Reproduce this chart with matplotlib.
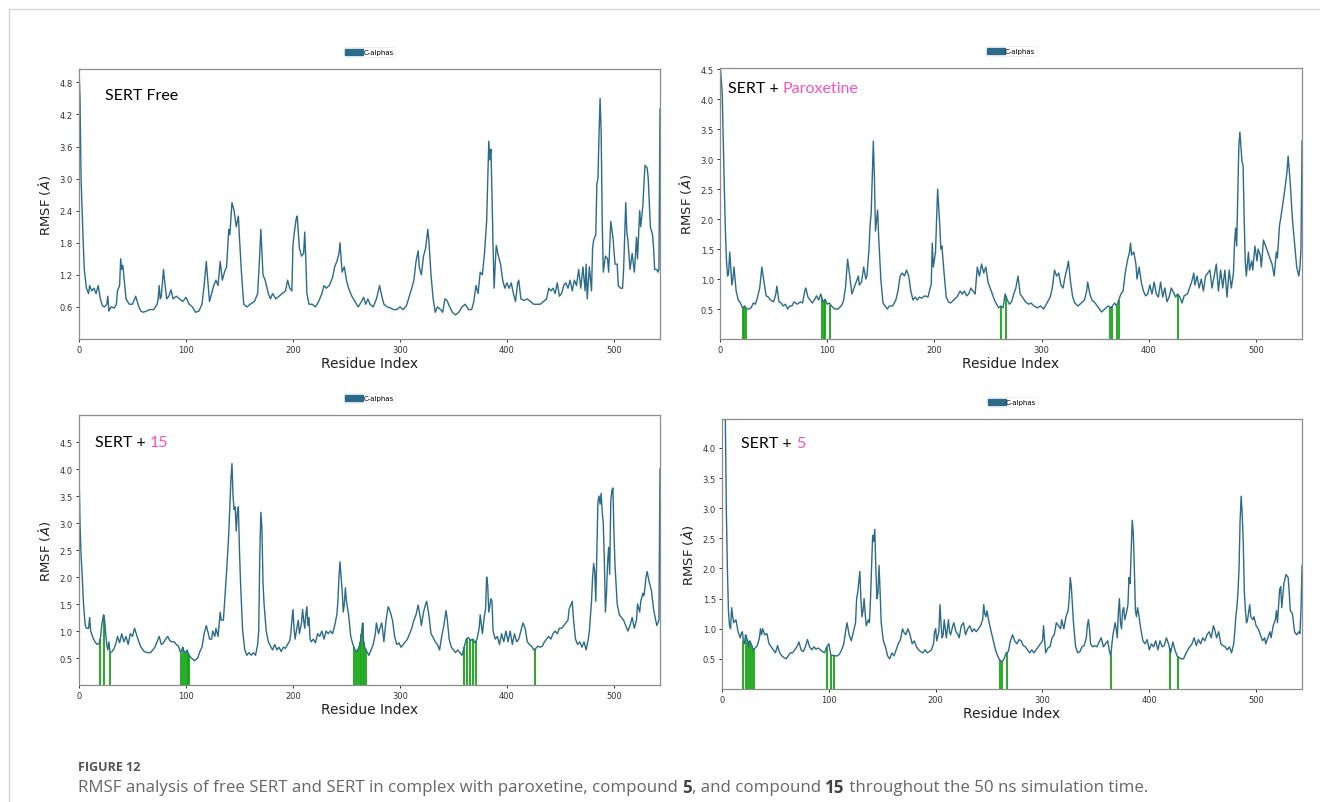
import numpy as np
import matplotlib
matplotlib.use("Agg")
import matplotlib.pyplot as plt
from matplotlib.patches import Patch

# RMSF profiles (residue index, RMSF in Angstrom)
free_res = [0, 1, 2, 4, 5, 7, 9, 10, 12, 14, 16, 18, 20, 22, 24, 26, 27, 28, 30, 33, 35, 36, 38, 39, 40, 41, 43, 44, 47, 50, 53, 56, 58, 60, 63, 66, 70, 73, 74, 75, 76, 77, 79, 80, 82, 84, 86, 88, 91, 94, 97, 100, 103, 106, 109, 112, 115, 117, 119, 121, 122, 124, 126, 128, 130, 132, 134, 136, 138, 140, 141, 143, 145, 147, 149, 150, 152, 154, 157, 160, 164, 167, 169, 170, 172, 174, 177, 179, 181, 184, 187, 190, 193, 195, 197, 199, 200, 201, 203, 204, 206, 208, 210, 211, 212, 213, 215, 218, 221, 224, 227, 229, 231, 234, 237, 239, 241, 243, 244, 245, 246, 248, 250, 252, 255, 258, 261, 264, 266, 268, 270, 272, 275, 278, 281, 283, 285, 288, 291, 294, 297, 300, 303, 306, 308, 311, 313, 315, 317, 318, 320, 322, 324, 326, 327, 329, 331, 333, 335, 338, 340, 342, 344, 346, 349, 352, 355, 358, 361, 364, 367, 369, 371, 373, 375, 377, 379, 381, 383, 384, 385, 386, 387, 388, 389, 390, 392, 394, 396, 398, 400, 402, 404, 406, 408, 410, 411, 413, 416, 419, 422, 425, 428, 431, 434, 437, 439, 441, 443, 445, 447, 449, 451, 453, 455, 457, 459, 461, 463, 465, 467, 469, 471, 473, 474, 475, 477, 479, 480, 481, 483, 484, 485, 486, 487, 488, 489, 490, 492, 494, 495, 497, 498, 499, 501, 503, 504, 506, 508, 509, 511, 512, 513, 515, 517, 519, 520, 521, 522, 524, 525, 527, 528, 529, 531, 532, 534, 536, 537, 538, 540, 541, 542, 543]
free_rmsf = [5.1, 4.5, 3.0, 1.8, 1.3, 0.95, 0.85, 1.0, 0.9, 0.95, 0.85, 1.0, 0.75, 0.62, 0.6, 0.65, 0.8, 0.52, 0.6, 0.58, 0.65, 0.9, 1.0, 1.5, 1.3, 1.38, 0.95, 0.75, 0.65, 0.65, 0.8, 0.6, 0.52, 0.5, 0.52, 0.55, 0.55, 0.65, 0.75, 1.0, 0.75, 0.8, 1.3, 1.1, 0.75, 0.8, 0.92, 0.75, 0.8, 0.75, 0.7, 0.78, 0.65, 0.6, 0.5, 0.52, 0.65, 1.0, 1.45, 0.95, 0.7, 0.85, 1.0, 1.1, 1.0, 1.45, 1.1, 1.25, 1.35, 2.05, 1.95, 2.55, 2.4, 2.1, 2.3, 1.9, 1.2, 0.65, 0.6, 0.65, 0.7, 0.85, 1.6, 2.05, 1.2, 1.1, 0.85, 0.75, 0.85, 0.75, 0.8, 0.85, 0.9, 1.1, 0.95, 0.9, 1.75, 1.95, 2.25, 2.3, 1.7, 1.55, 1.6, 2.0, 1.5, 0.85, 0.65, 0.65, 0.6, 0.7, 0.85, 1.0, 0.95, 1.0, 1.15, 1.35, 1.45, 1.6, 1.8, 1.5, 1.25, 1.35, 1.1, 0.95, 0.8, 0.7, 0.6, 0.7, 0.78, 0.65, 0.75, 0.65, 0.6, 0.75, 1.0, 0.8, 0.65, 0.6, 0.58, 0.55, 0.55, 0.6, 0.55, 0.62, 0.75, 0.95, 1.1, 1.45, 1.65, 1.35, 1.2, 1.55, 1.7, 2.05, 1.85, 1.2, 0.75, 0.5, 0.6, 0.55, 0.5, 0.75, 0.72, 0.62, 0.5, 0.45, 0.5, 0.6, 0.65, 0.55, 0.55, 0.7, 1.0, 0.85, 1.25, 1.2, 1.6, 2.2, 3.7, 3.35, 3.55, 2.7, 1.7, 0.95, 1.4, 1.75, 1.55, 1.4, 1.1, 0.95, 1.05, 0.95, 1.05, 0.85, 0.7, 1.05, 1.1, 0.75, 0.72, 0.75, 0.7, 0.65, 0.65, 0.65, 0.7, 0.75, 0.95, 0.9, 0.95, 0.85, 1.05, 0.8, 0.85, 1.0, 1.05, 0.95, 1.1, 0.9, 1.1, 1.0, 1.3, 0.95, 1.35, 0.9, 1.4, 0.75, 1.35, 0.9, 1.7, 1.85, 1.95, 2.9, 3.0, 3.8, 4.5, 3.9, 2.2, 1.25, 1.55, 1.5, 1.25, 2.2, 2.05, 1.9, 1.4, 1.4, 1.0, 0.95, 0.95, 1.3, 2.55, 2.0, 1.85, 1.3, 1.6, 1.25, 1.55, 1.9, 1.5, 2.4, 2.1, 2.5, 2.9, 3.25, 3.2, 3.0, 2.1, 1.95, 1.7, 1.3, 1.3, 1.25, 1.3, 4.3]

para_res = [0, 2, 4, 5, 6, 7, 8, 9, 10, 11, 12, 13, 14, 15, 17, 19, 21, 23, 25, 27, 29, 31, 33, 35, 37, 39, 41, 43, 45, 47, 50, 52, 53, 55, 57, 59, 61, 63, 65, 67, 69, 72, 75, 77, 79, 80, 82, 84, 86, 88, 90, 92, 94, 96, 98, 100, 102, 104, 107, 110, 113, 115, 117, 119, 121, 123, 125, 127, 129, 130, 132, 134, 136, 137, 139, 140, 141, 143, 144, 145, 147, 148, 150, 152, 154, 156, 158, 161, 164, 166, 168, 170, 172, 174, 176, 178, 180, 182, 184, 186, 188, 191, 194, 196, 197, 198, 199, 201, 203, 204, 205, 206, 207, 209, 211, 213, 215, 218, 221, 224, 226, 228, 230, 232, 234, 236, 238, 240, 242, 244, 246, 248, 250, 252, 254, 256, 258, 260, 262, 264, 266, 268, 270, 272, 274, 276, 278, 280, 282, 285, 288, 290, 293, 296, 299, 302, 305, 308, 310, 312, 314, 316, 318, 320, 322, 324, 325, 327, 329, 331, 334, 337, 340, 342, 343, 345, 347, 350, 353, 356, 359, 362, 365, 368, 370, 372, 374, 376, 378, 380, 382, 383, 384, 386, 388, 389, 391, 393, 395, 397, 399, 401, 403, 405, 407, 409, 411, 413, 415, 417, 419, 421, 423, 425, 427, 429, 431, 433, 436, 438, 440, 442, 443, 445, 447, 449, 451, 453, 455, 457, 459, 461, 463, 465, 467, 469, 471, 473, 475, 477, 479, 480, 481, 482, 484, 485, 487, 488, 489, 490, 491, 493, 494, 496, 497, 499, 501, 502, 504, 505, 507, 509, 511, 513, 515, 517, 519, 520, 522, 523, 525, 527, 529, 530, 532, 534, 536, 538, 540, 541, 542, 543]
para_rmsf = [4.6, 4.1, 2.5, 1.8, 1.3, 1.05, 1.1, 1.45, 1.2, 0.9, 1.0, 1.2, 1.0, 0.8, 0.65, 0.6, 0.52, 0.55, 0.5, 0.5, 0.52, 0.6, 0.58, 0.7, 0.85, 1.2, 0.95, 0.72, 0.7, 0.65, 0.62, 0.75, 0.88, 0.62, 0.6, 0.55, 0.58, 0.5, 0.55, 0.55, 0.62, 0.58, 0.62, 0.6, 0.8, 0.85, 0.7, 0.65, 0.6, 0.65, 0.72, 0.65, 0.75, 0.62, 0.66, 0.58, 0.6, 0.55, 0.5, 0.5, 0.55, 0.62, 0.85, 1.33, 1.05, 0.75, 0.85, 0.95, 1.05, 0.9, 0.95, 1.2, 1.0, 1.05, 1.5, 1.9, 2.1, 3.3, 2.7, 1.8, 2.15, 1.7, 1.0, 0.6, 0.55, 0.5, 0.55, 0.55, 0.65, 0.8, 1.05, 1.1, 1.05, 1.15, 1.05, 0.8, 0.65, 0.7, 0.65, 0.7, 0.68, 0.72, 0.7, 0.85, 0.9, 1.6, 1.2, 1.45, 2.5, 2.2, 1.9, 1.5, 1.55, 1.1, 0.7, 0.62, 0.6, 0.65, 0.7, 0.8, 0.75, 0.8, 0.72, 0.75, 0.85, 0.8, 0.75, 1.2, 1.05, 1.25, 1.1, 1.2, 0.95, 0.85, 0.75, 0.65, 0.58, 0.52, 0.55, 0.52, 0.75, 0.65, 0.58, 0.62, 0.75, 0.85, 1.05, 0.75, 0.7, 0.62, 0.58, 0.6, 0.55, 0.52, 0.55, 0.5, 0.6, 0.7, 0.85, 1.15, 1.05, 1.1, 0.9, 0.85, 1.05, 1.2, 1.3, 0.95, 0.7, 0.6, 0.55, 0.6, 0.65, 0.8, 0.95, 0.75, 0.65, 0.6, 0.52, 0.45, 0.5, 0.55, 0.52, 0.6, 0.55, 0.65, 0.75, 0.8, 1.1, 1.3, 1.45, 1.6, 1.4, 1.45, 1.25, 1.0, 1.2, 0.95, 0.8, 0.72, 0.75, 0.9, 0.75, 0.95, 0.75, 0.7, 0.95, 0.7, 0.85, 0.62, 0.7, 0.85, 0.78, 0.7, 0.75, 0.7, 0.6, 0.72, 0.75, 0.85, 0.95, 1.1, 0.9, 1.05, 0.85, 1.0, 0.8, 1.05, 1.1, 1.15, 0.85, 1.05, 1.25, 0.8, 1.15, 0.85, 1.15, 0.7, 1.15, 0.85, 1.1, 1.6, 1.85, 1.55, 3.2, 3.45, 2.95, 2.9, 2.0, 1.3, 1.05, 1.45, 1.15, 1.3, 1.15, 1.55, 1.3, 1.5, 1.4, 1.2, 1.65, 1.55, 1.45, 1.35, 1.25, 1.05, 1.45, 1.35, 1.9, 2.0, 2.25, 2.5, 2.8, 3.05, 2.6, 2.0, 1.6, 1.2, 1.05, 1.2, 1.5, 3.3]

c15_res = [0, 1, 2, 3, 4, 5, 6, 7, 9, 10, 11, 13, 15, 17, 19, 20, 21, 22, 23, 24, 25, 26, 27, 28, 29, 31, 33, 35, 36, 38, 40, 42, 44, 46, 48, 50, 52, 54, 56, 58, 61, 64, 67, 69, 71, 73, 75, 77, 79, 81, 83, 85, 87, 89, 91, 93, 95, 97, 99, 101, 103, 105, 108, 111, 113, 115, 117, 119, 121, 122, 124, 125, 127, 128, 130, 132, 133, 135, 136, 138, 140, 142, 143, 144, 145, 146, 147, 148, 149, 150, 151, 153, 155, 157, 159, 161, 163, 165, 167, 168, 169, 170, 171, 172, 173, 175, 177, 179, 181, 183, 185, 187, 189, 191, 193, 195, 197, 198, 199, 200, 201, 202, 204, 205, 206, 208, 209, 210, 211, 212, 213, 214, 215, 216, 217, 219, 221, 223, 225, 227, 229, 231, 233, 235, 237, 239, 241, 242, 243, 244, 245, 246, 247, 248, 249, 250, 252, 254, 256, 258, 260, 262, 263, 264, 265, 266, 267, 269, 271, 273, 275, 277, 278, 280, 282, 283, 285, 287, 289, 291, 293, 295, 297, 299, 301, 303, 305, 307, 309, 311, 313, 315, 317, 319, 320, 322, 324, 325, 327, 329, 331, 333, 335, 337, 339, 341, 343, 344, 346, 348, 350, 352, 354, 356, 358, 360, 362, 364, 366, 368, 370, 372, 374, 375, 377, 379, 380, 381, 382, 383, 385, 386, 387, 389, 391, 393, 395, 397, 399, 401, 403, 405, 407, 409, 411, 413, 415, 417, 419, 421, 423, 425, 427, 429, 431, 433, 435, 437, 439, 441, 443, 445, 447, 449, 451, 453, 455, 457, 458, 460, 461, 462, 464, 466, 468, 470, 472, 474, 476, 477, 479, 480, 481, 482, 483, 484, 485, 486, 487, 488, 489, 490, 491, 492, 493, 494, 495, 496, 497, 498, 499, 500, 501, 503, 505, 507, 509, 511, 513, 515, 517, 519, 521, 522, 524, 525, 527, 528, 530, 531, 533, 535, 537, 539, 540, 542, 543]
c15_rmsf = [4.05, 3.0, 2.4, 2.05, 1.6, 1.3, 1.1, 1.05, 1.05, 1.25, 1.0, 0.88, 0.8, 0.75, 0.78, 0.85, 1.05, 1.2, 1.3, 1.2, 0.95, 0.75, 0.65, 0.8, 0.6, 0.62, 0.68, 0.8, 0.9, 0.78, 0.95, 0.8, 0.9, 0.75, 0.95, 0.9, 1.05, 0.92, 0.8, 0.7, 0.62, 0.6, 0.6, 0.65, 0.7, 0.8, 0.9, 0.75, 0.78, 0.85, 0.9, 0.82, 0.8, 0.8, 0.75, 0.72, 0.6, 0.7, 0.58, 0.65, 0.55, 0.5, 0.45, 0.5, 0.62, 0.7, 0.95, 1.1, 0.95, 0.85, 0.85, 1.0, 0.9, 1.05, 0.9, 1.35, 1.2, 1.2, 1.5, 2.1, 2.8, 3.8, 4.1, 3.5, 3.25, 3.3, 2.85, 3.2, 3.3, 2.5, 1.9, 1.0, 0.65, 0.55, 0.6, 0.55, 0.6, 0.55, 0.75, 1.0, 2.4, 3.2, 2.9, 1.9, 1.5, 1.0, 0.8, 0.72, 0.65, 0.75, 0.65, 0.7, 0.62, 0.7, 0.68, 0.75, 0.82, 0.95, 1.2, 1.4, 1.05, 0.85, 1.1, 1.2, 0.95, 1.15, 1.4, 1.2, 1.05, 1.3, 1.45, 1.1, 1.25, 0.85, 0.8, 0.85, 0.78, 0.95, 0.9, 1.0, 0.85, 1.0, 0.95, 1.0, 0.95, 1.1, 1.3, 1.55, 2.0, 2.28, 2.0, 1.75, 1.35, 1.5, 1.8, 1.55, 1.3, 0.9, 0.75, 0.65, 0.62, 0.72, 0.8, 0.95, 1.15, 0.8, 0.7, 0.62, 0.55, 0.65, 0.75, 0.95, 1.15, 0.95, 1.1, 1.15, 0.8, 1.2, 1.45, 1.35, 1.2, 0.9, 0.75, 0.78, 0.7, 0.75, 0.8, 0.85, 0.95, 1.05, 1.2, 1.3, 1.48, 1.25, 1.1, 1.35, 1.5, 1.55, 1.3, 0.95, 0.88, 0.8, 0.75, 0.65, 0.9, 1.1, 1.38, 1.25, 0.85, 0.7, 0.65, 0.6, 0.65, 0.6, 0.55, 0.7, 0.85, 0.88, 0.82, 0.85, 0.78, 0.85, 1.05, 1.3, 0.95, 1.3, 1.4, 2.0, 1.85, 1.35, 1.6, 1.55, 1.0, 0.85, 0.9, 0.75, 0.95, 0.8, 1.0, 0.8, 1.0, 0.75, 0.95, 0.8, 0.85, 1.0, 1.15, 1.05, 0.8, 0.75, 0.72, 0.65, 0.68, 0.72, 0.7, 0.72, 0.8, 0.85, 0.9, 0.85, 0.95, 1.0, 0.95, 1.05, 1.05, 1.1, 1.15, 1.2, 1.4, 1.5, 1.55, 1.25, 0.85, 0.75, 0.8, 0.7, 0.8, 0.65, 0.85, 1.0, 1.55, 2.0, 2.25, 2.1, 1.55, 2.5, 3.4, 3.5, 3.35, 3.55, 3.2, 3.0, 2.3, 1.35, 1.7, 2.25, 2.55, 2.05, 3.4, 3.6, 3.65, 2.8, 2.2, 1.5, 1.3, 1.25, 1.2, 1.1, 1.0, 1.1, 1.25, 1.05, 1.2, 1.5, 1.35, 1.55, 1.7, 1.65, 2.0, 2.1, 1.9, 1.75, 1.4, 1.2, 1.1, 1.2, 4.0]

c5_res = [0, 2, 3, 4, 5, 6, 7, 8, 9, 10, 11, 13, 15, 17, 18, 19, 20, 21, 22, 23, 24, 25, 26, 28, 29, 31, 33, 35, 36, 37, 38, 40, 42, 44, 46, 48, 50, 52, 54, 56, 58, 60, 62, 64, 66, 68, 70, 72, 74, 76, 78, 80, 82, 84, 86, 88, 90, 92, 94, 96, 98, 100, 102, 104, 106, 108, 110, 112, 114, 116, 117, 119, 121, 123, 125, 126, 127, 129, 130, 131, 132, 133, 134, 135, 137, 138, 139, 140, 141, 142, 143, 144, 145, 146, 147, 148, 149, 151, 153, 155, 157, 159, 161, 163, 165, 167, 169, 170, 172, 174, 176, 178, 180, 182, 184, 186, 188, 190, 192, 194, 196, 198, 199, 200, 201, 203, 204, 205, 206, 207, 208, 209, 210, 212, 213, 214, 216, 217, 219, 221, 222, 224, 226, 228, 230, 232, 234, 236, 238, 240, 242, 244, 245, 246, 247, 248, 250, 252, 254, 256, 258, 260, 262, 264, 266, 268, 270, 272, 274, 276, 278, 280, 282, 284, 286, 288, 290, 292, 294, 296, 298, 300, 301, 302, 303, 305, 307, 309, 311, 313, 315, 317, 318, 320, 322, 324, 325, 326, 327, 328, 329, 331, 333, 335, 337, 339, 341, 342, 343, 344, 345, 347, 349, 351, 353, 355, 357, 359, 361, 363, 364, 365, 366, 368, 369, 370, 371, 372, 373, 374, 375, 376, 377, 379, 380, 381, 382, 383, 384, 385, 386, 387, 388, 389, 390, 392, 394, 396, 398, 400, 402, 404, 406, 408, 410, 412, 414, 416, 418, 420, 422, 424, 426, 428, 430, 432, 434, 436, 438, 440, 442, 444, 446, 448, 450, 452, 454, 456, 458, 460, 461, 463, 465, 467, 469, 471, 473, 475, 477, 479, 480, 481, 482, 483, 484, 485, 486, 487, 488, 489, 490, 491, 492, 494, 495, 497, 498, 500, 502, 504, 506, 508, 509, 511, 513, 514, 516, 518, 519, 520, 522, 523, 524, 526, 528, 530, 531, 532, 534, 536, 538, 540, 541, 542, 543]
c5_rmsf = [5.0, 4.9, 4.6, 3.0, 2.0, 1.3, 1.05, 1.0, 1.35, 1.2, 1.1, 1.15, 0.95, 0.85, 0.92, 0.95, 0.8, 0.75, 0.9, 0.85, 0.8, 0.7, 0.8, 0.72, 0.65, 0.68, 0.72, 0.85, 1.0, 0.9, 1.0, 0.9, 0.92, 0.75, 0.7, 0.65, 0.6, 0.72, 0.6, 0.55, 0.52, 0.5, 0.55, 0.6, 0.6, 0.65, 0.7, 0.78, 0.65, 0.62, 0.7, 0.82, 0.7, 0.65, 0.7, 0.66, 0.68, 0.65, 0.62, 0.6, 0.7, 0.75, 0.55, 0.56, 0.55, 0.55, 0.58, 0.65, 0.75, 1.0, 1.1, 0.9, 0.8, 0.95, 1.1, 1.5, 1.6, 1.95, 1.5, 1.2, 1.3, 1.5, 1.25, 1.05, 1.15, 1.1, 1.5, 2.0, 2.55, 2.45, 2.65, 2.0, 1.5, 1.6, 2.05, 1.6, 1.1, 0.8, 0.7, 0.55, 0.5, 0.6, 0.55, 0.65, 0.75, 0.82, 1.0, 0.95, 0.9, 1.0, 0.9, 0.75, 0.8, 0.7, 0.65, 0.62, 0.6, 0.65, 0.6, 0.62, 0.65, 0.75, 0.95, 1.0, 0.8, 0.95, 1.4, 1.1, 0.85, 0.9, 1.15, 1.0, 0.85, 1.15, 0.95, 0.9, 1.05, 1.1, 0.95, 0.9, 0.85, 1.05, 1.1, 0.9, 1.0, 1.05, 0.95, 1.0, 0.95, 1.0, 1.05, 1.15, 1.4, 1.25, 1.2, 1.3, 1.1, 0.95, 0.8, 0.65, 0.55, 0.48, 0.45, 0.5, 0.6, 0.62, 0.8, 0.9, 0.8, 0.75, 0.82, 0.8, 0.72, 0.7, 0.65, 0.6, 0.65, 0.6, 0.65, 0.7, 0.75, 0.8, 1.05, 0.8, 0.6, 0.68, 0.7, 0.85, 0.9, 1.1, 1.05, 1.0, 1.15, 1.0, 1.2, 1.3, 1.5, 1.85, 1.7, 1.4, 1.1, 0.7, 0.6, 0.62, 0.7, 0.72, 0.85, 1.05, 1.15, 1.0, 0.75, 0.7, 0.72, 0.7, 0.78, 0.85, 0.7, 0.75, 0.8, 0.6, 0.55, 0.75, 0.9, 1.1, 1.0, 0.85, 1.25, 1.5, 1.1, 1.0, 1.3, 1.35, 1.15, 1.3, 1.4, 1.85, 1.75, 2.3, 2.8, 2.6, 2.0, 1.3, 1.2, 1.35, 1.25, 1.0, 0.8, 0.75, 0.82, 0.65, 0.75, 0.7, 0.8, 0.65, 0.8, 0.7, 0.72, 0.85, 0.75, 0.6, 0.78, 0.65, 0.55, 0.52, 0.5, 0.5, 0.58, 0.65, 0.7, 0.75, 0.85, 0.72, 0.82, 0.75, 0.85, 0.8, 0.9, 0.95, 0.85, 1.05, 1.0, 0.85, 0.95, 0.75, 0.72, 0.7, 0.65, 0.7, 0.6, 0.75, 0.95, 1.2, 1.35, 1.6, 2.0, 2.8, 3.2, 2.9, 2.4, 1.6, 1.3, 1.1, 1.15, 1.4, 1.2, 1.15, 1.2, 1.05, 1.0, 0.9, 0.8, 0.85, 0.75, 0.85, 0.95, 0.85, 1.05, 1.15, 1.3, 1.1, 1.65, 1.7, 1.35, 1.75, 1.9, 1.85, 1.6, 1.3, 1.25, 0.95, 0.9, 0.95, 0.92, 1.3, 2.05]

# residues in contact with the ligand (green bars)
para_contacts = [21, 22, 24, 95, 97, 98, 103, 262, 267, 364, 366, 370, 372, 427]
c15_contacts = [20, 23, 29, 95, 97, 99, 101, 102, 103, 257, 259, 261, 263, 264,
                265, 266, 268, 360, 363, 365, 368, 371, 426]
c5_contacts = [20, 22, 24, 26, 28, 30, 98, 102, 105, 260, 262, 267, 364, 419, 427]

line_color = "#2c6b88"
green = "#14a514"
pink = "#f552c6"

fig = plt.figure(figsize=(13.2, 8.03), dpi=100)

# background axes for the caption and the outer frame
bg = fig.add_axes([0, 0, 1, 1])
bg.set_xlim(0, 1)
bg.set_ylim(0, 1)
bg.axis("off")
bg.plot([0.0068, 1.0], [0.9875, 0.9875], color="#d6d6d6", lw=1)
bg.plot([0.0068, 0.0068], [0.0, 0.9875], color="#d6d6d6", lw=1)

panels = [
    # res, rmsf, contacts, rect, ylim top, yticks, title, highlight, title pos
    (free_res, free_rmsf, [], [0.0598, 0.5766, 0.4402, 0.3362], 5.05,
     np.arange(0.6, 4.81, 0.6), "SERT Free", "", (0.045, 0.905)),
    (para_res, para_rmsf, para_contacts, [0.5455, 0.5766, 0.4409, 0.3375], 4.52,
     np.arange(0.5, 4.51, 0.5), "SERT + ", "Paroxetine", (0.014, 0.925)),
    (c15_res, c15_rmsf, c15_contacts, [0.0598, 0.1457, 0.4402, 0.3362], 5.0,
     np.arange(0.5, 4.51, 0.5), "SERT + ", "15", (0.028, 0.9)),
    (c5_res, c5_rmsf, c5_contacts, [0.547, 0.1407, 0.4394, 0.3362], 4.48,
     np.arange(0.5, 4.01, 0.5), "SERT + ", "5", (0.033, 0.912)),
]

for res, rmsf, contacts, rect, ytop, yticks, title, hl, tpos in panels:
    ax = fig.add_axes(rect)
    if contacts:
        heights = np.interp(contacts, res, rmsf)
        ax.vlines(contacts, 0, heights, color=green, lw=1.3, zorder=1)
    ax.plot(res, rmsf, color=line_color, lw=1.0, zorder=2)
    ax.set_xlim(0, 543)
    ax.set_ylim(0, ytop)
    ax.set_xticks(range(0, 501, 100))
    ax.set_yticks(yticks)
    ax.set_yticklabels(["%.1f" % v for v in yticks])
    ax.tick_params(labelsize=6, length=2.5, width=0.7, colors="#333333", pad=2)
    for sp in ax.spines.values():
        sp.set_color("#8c8c8c")
        sp.set_linewidth(0.9)
    ax.set_xlabel("Residue Index", fontsize=10, labelpad=1, color="#222222")
    ax.set_ylabel(r"RMSF ($\mathring{A}$)", fontsize=9.5, labelpad=4, color="#222222")

    leg = ax.legend(handles=[Patch(facecolor=line_color, edgecolor=line_color)],
                    labels=["C-alphas"], loc="lower center",
                    bbox_to_anchor=(0.5, 1.045), fontsize=5, frameon=True,
                    handlelength=2.6, handleheight=0.9, handletextpad=0.0,
                    borderpad=0.25, borderaxespad=0)
    leg.get_frame().set_edgecolor("#e6e6e6")
    leg.get_frame().set_linewidth(0.5)

    t = ax.text(tpos[0], tpos[1], title, transform=ax.transAxes, fontsize=11.5,
                family="Lato", color="black", va="center", ha="left", zorder=3,
                bbox=dict(facecolor="white", edgecolor="none", pad=1))
    if hl:
        ax.annotate(hl, xy=(1, 0.5), xycoords=t, va="center", ha="left",
                    fontsize=11.5, family="Lato", color=pink, zorder=3)

cap_font = "Open Sans"
bg.text(0.059, 0.0436, "FIGURE 12", fontsize=9, family=cap_font,
        color="#555555", va="center", weight="bold")

pieces = [("RMSF analysis of free SERT and SERT in complex with paroxetine, compound ", "normal"),
          ("5", "bold"), (", and compound ", "normal"), ("15", "bold"),
          (" throughout the 50 ns simulation time.", "normal")]
prev = bg.text(0.059, 0.0187, pieces[0][0], fontsize=12.2, family=cap_font,
               color="#666666", va="center")
for txt, wt in pieces[1:]:
    prev = bg.annotate(txt, xy=(1, 0.5), xycoords=prev, va="center", ha="left",
                       fontsize=12.2, family=cap_font,
                       color="#444444" if wt == "bold" else "#666666", weight=wt)

fig.savefig("out.png", dpi=100)
plt.close(fig)
